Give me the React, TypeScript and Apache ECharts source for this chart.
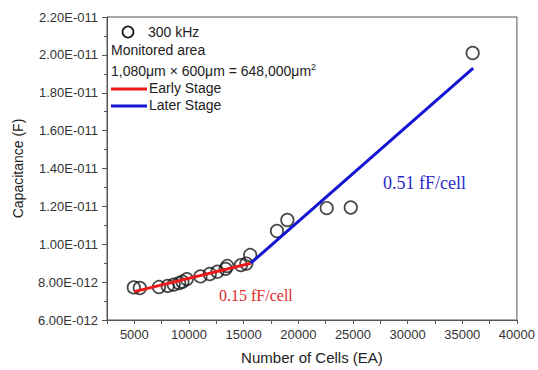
import React, { useEffect, useRef } from "react";
import * as echarts from "echarts";

// Measured points: number of cells vs capacitance (in pF, i.e. 1e-12 F)
const cells = [4950, 5500, 7250, 8050, 8600, 9100, 9400, 9800, 11050, 11900, 12600, 13350, 13500, 14750, 15250, 15600, 18050, 19000, 22600, 24800, 35950];
const capacitancePF = [7.72, 7.69, 7.74, 7.8, 7.87, 7.95, 8.02, 8.16, 8.3, 8.43, 8.55, 8.7, 8.85, 8.9, 8.98, 9.43, 10.7, 11.28, 11.91, 11.94, 20.1];

// Fit lines
const earlyFitCells = [5000, 15650];
const earlyFitPF = [7.5, 9.0];
const laterFitCells = [15650, 36000];
const laterFitPF = [9.0, 19.3];

// Axes
const xMin = 2500;
const xMax = 40000;
const xStep = 2500;
const xLabelStep = 5000;
const yMin = 6;
const yMax = 22;
const yStep = 2;

const SANS = "Liberation Sans";
const SERIF = "Liberation Serif";

function fmtY(v: number): string {
  // v is in pF (1e-12 F)
  if (v >= 10) return (v / 10).toFixed(2) + "E-011";
  return v.toFixed(2) + "E-012";
}

export default function App() {
  const ref = useRef<HTMLDivElement>(null);
  useEffect(() => {
    if (!ref.current) return;
    const chart = echarts.init(ref.current, undefined, { renderer: "svg" });
    const option: any = {
      animation: false,
      backgroundColor: "#ffffff",
      grid: {
        left: 107,
        top: 17,
        right: 19,
        bottom: 50,
        show: true,
        borderColor: "#555",
        borderWidth: 1,
        backgroundColor: "transparent",
      },
      xAxis: {
        type: "value",
        min: xMin,
        max: xMax,
        interval: xStep,
        name: "Number of Cells (EA)",
        nameLocation: "middle",
        nameGap: 30,
        nameTextStyle: { fontFamily: SANS, fontSize: 15, color: "#222" },
        axisLine: { show: true, lineStyle: { color: "#555", width: 1 } },
        axisTick: { show: true, length: 4, lineStyle: { color: "#555" } },
        axisLabel: {
          formatter: (v: number) => (v % xLabelStep === 0 ? String(v) : ""),
          fontFamily: SANS,
          fontSize: 13,
          color: "#333",
          margin: 8,
        },
        splitLine: { show: false },
      },
      yAxis: {
        type: "value",
        min: yMin,
        max: yMax,
        interval: yStep,
        name: "Capacitance (F)",
        nameLocation: "middle",
        nameRotate: 90,
        nameGap: 82,
        nameTextStyle: { fontFamily: SANS, fontSize: 14, color: "#222" },
        axisLine: { show: true, lineStyle: { color: "#555", width: 1 } },
        axisTick: { show: true, length: 5, lineStyle: { color: "#555" } },
        minorTick: { show: true, splitNumber: 2, length: 3, lineStyle: { color: "#555" } },
        axisLabel: {
          formatter: fmtY,
          fontFamily: SANS,
          fontSize: 13,
          color: "#333",
          margin: 9,
        },
        splitLine: { show: false },
      },
      series: [
        {
          type: "scatter",
          name: "300 kHz",
          data: cells.map((c, i) => [c, capacitancePF[i]]),
          symbol: "circle",
          symbolSize: 12.5,
          itemStyle: { color: "rgba(0,0,0,0)", borderColor: "#1a1a1a", borderWidth: 1.7 },
          z: 2,
        },
        {
          type: "line",
          name: "Early Stage",
          data: earlyFitCells.map((c, i) => [c, earlyFitPF[i]]),
          showSymbol: false,
          symbol: "none",
          lineStyle: { color: "#f01818", width: 3 },
          z: 3,
        },
        {
          type: "line",
          name: "Later Stage",
          data: laterFitCells.map((c, i) => [c, laterFitPF[i]]),
          showSymbol: false,
          symbol: "none",
          lineStyle: { color: "#1414d2", width: 3 },
          z: 3,
        },
      ],
      graphic: [
        {
          type: "circle",
          shape: { cx: 128, cy: 32, r: 5.5 },
          style: { fill: "none", stroke: "#1a1a1a", lineWidth: 1.7 },
        },
        {
          type: "text",
          x: 148,
          y: 32,
          style: { text: "300 kHz", fontFamily: SANS, fontSize: 14, fill: "#222", verticalAlign: "middle" },
        },
        {
          type: "text",
          x: 111,
          y: 50,
          style: { text: "Monitored area", fontFamily: SANS, fontSize: 14, fill: "#222", verticalAlign: "middle" },
        },
        {
          type: "text",
          x: 111,
          y: 71,
          style: {
            text: "1,080\u03bcm \u00d7 600\u03bcm = 648,000\u03bcm{sup|2}",
            fontFamily: SANS,
            fontSize: 14,
            fill: "#222",
            verticalAlign: "middle",
            rich: { sup: { fontSize: 9, fontFamily: SANS, fill: "#222", padding: [0, 0, 8, 0] } },
          },
        },
        {
          type: "line",
          shape: { x1: 111, y1: 89, x2: 147, y2: 89 },
          style: { stroke: "#f01818", lineWidth: 3 },
        },
        {
          type: "text",
          x: 149,
          y: 88,
          style: { text: "Early Stage", fontFamily: SANS, fontSize: 14, fill: "#222", verticalAlign: "middle" },
        },
        {
          type: "line",
          shape: { x1: 111, y1: 106, x2: 147, y2: 106 },
          style: { stroke: "#1414d2", lineWidth: 3 },
        },
        {
          type: "text",
          x: 149,
          y: 105,
          style: { text: "Later Stage", fontFamily: SANS, fontSize: 14, fill: "#222", verticalAlign: "middle" },
        },
        {
          type: "text",
          x: 383,
          y: 183,
          style: { text: "0.51 fF/cell", fontFamily: SERIF, fontSize: 18, fill: "#2a2ac8", verticalAlign: "middle" },
        },
        {
          type: "text",
          x: 219,
          y: 295,
          style: { text: "0.15 fF/cell", fontFamily: SERIF, fontSize: 16, fill: "#e02a2a", verticalAlign: "middle" },
        },
      ],
    };
    chart.setOption(option);
    return () => chart.dispose();
  }, []);
  return (
    <div
      ref={ref}
      style={{ position: "fixed", left: 0, top: 0, width: 538, height: 370, background: "#fff" }}
    />
  );
}
